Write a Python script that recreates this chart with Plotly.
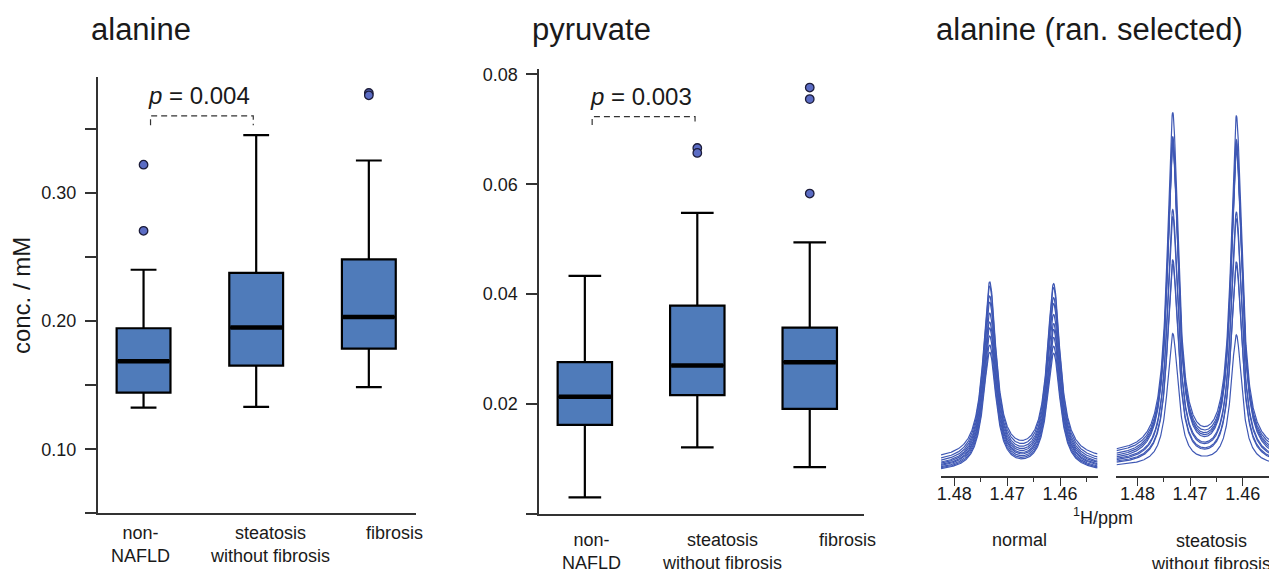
import numpy as np
import plotly.graph_objects as go

# ---------------- data ----------------
categories = ["non-NAFLD", "steatosis without fibrosis", "fibrosis"]
category_labels = ["non-<br>NAFLD", "steatosis<br>without fibrosis", "fibrosis"]

# alanine (conc. / mM)
ala_lower = [0.1326, 0.1331, 0.1485]
ala_q1 = [0.1442, 0.1653, 0.1786]
ala_median = [0.1686, 0.1949, 0.2031]
ala_q3 = [0.1944, 0.2376, 0.2481]
ala_upper = [0.2400, 0.3450, 0.3252]
ala_outliers = [[0.3219, 0.2704], [], [0.3778, 0.3760]]
ala_p = "0.004"
ala_yticks = [0.05, 0.10, 0.15, 0.20, 0.25, 0.30, 0.35]
ala_yticklabels = ["", "0.10", "", "0.20", "", "0.30", ""]

# pyruvate (conc. / mM)
pyr_lower = [0.0030, 0.0121, 0.0085]
pyr_q1 = [0.0162, 0.0216, 0.0191]
pyr_median = [0.0213, 0.0270, 0.0276]
pyr_q3 = [0.0276, 0.0379, 0.0339]
pyr_upper = [0.0433, 0.0548, 0.0494]
pyr_outliers = [[], [0.0666, 0.0657], [0.0776, 0.0755, 0.0583]]
pyr_p = "0.003"
pyr_yticks = [0.0, 0.02, 0.04, 0.06, 0.08]
pyr_yticklabels = ["", "0.02", "0.04", "0.06", "0.08"]

# alanine spectra (randomly selected), 1H / ppm, arbitrary intensity
ppm_ticks = [1.48, 1.47, 1.46]
ppm_ticklabels = ["1.48", "1.47", "1.46"]
ppm_minor = [1.475, 1.465, 1.455]
doublet_ppm = [1.4733, 1.4612]
normal_tops = [51.5, 50.4, 47.7, 46.1, 43.2, 40.8, 39.2, 37.1, 34.7, 32.8]
normal_bases = [4.2, 3.4, 2.9, 2.4, 2.2, 1.9, 1.7, 1.4, 1.2, 1.0]
steat_tops = [96.8, 90.4, 89.6, 88.8, 87.7, 70.9, 69.1, 57.6, 56.5, 37.9]
steat_bases = [5.8, 5.4, 4.7, 4.2, 3.7, 3.6, 3.3, 3.1, 2.8, 2.4]

# ---------------- style ----------------
W, H = 1269, 569
FONT = "Liberation Sans, Arial, Helvetica, sans-serif"
TXT = "#1a1a1a"
AX = "#333333"
BOX_FILL = "#4f7bba"
DOT_FILL = "#5b6cc4"
SPEC = "#3f58b4"


def px(x):
    return x / W


def py(y):
    return 1 - y / H


fig = go.Figure()


def add_box_panel(xa, ya, lower, q1, med, q3, upper, outliers, bw, ww):
    xs = list(range(len(categories)))
    fig.add_trace(go.Box(
        x=xs, q1=q1, median=med, q3=q3, lowerfence=lower, upperfence=upper,
        width=bw, whiskerwidth=ww, boxpoints=False,
        fillcolor=BOX_FILL, line=dict(color="black", width=2.2),
        xaxis=xa, yaxis=ya, showlegend=False, hoverinfo="skip"))
    mx, my = [], []
    for i, m in enumerate(med):
        mx += [i - bw / 2 + 0.01, i + bw / 2 - 0.01, None]
        my += [m, m, None]
    fig.add_trace(go.Scatter(x=mx, y=my, mode="lines",
                             line=dict(color="black", width=4.5),
                             xaxis=xa, yaxis=ya, showlegend=False, hoverinfo="skip"))
    ox, oy = [], []
    for i, vals in enumerate(outliers):
        for v in vals:
            ox.append(i)
            oy.append(v)
    fig.add_trace(go.Scatter(x=ox, y=oy, mode="markers",
                             marker=dict(size=8.5, color=DOT_FILL,
                                         line=dict(color="#1c1c3a", width=1.3)),
                             xaxis=xa, yaxis=ya, showlegend=False, hoverinfo="skip"))


add_box_panel("x", "y", ala_lower, ala_q1, ala_median, ala_q3, ala_upper, ala_outliers, 0.478, 0.48)
add_box_panel("x2", "y2", pyr_lower, pyr_q1, pyr_median, pyr_q3, pyr_upper, pyr_outliers, 0.484, 0.60)


def lorentz(x, c, hw):
    return 1.0 / (1.0 + ((x - c) / hw) ** 2)


def add_spectra(xa, ya, tops, bases, x_hi, x_lo, hw):
    grid = np.linspace(x_hi, x_lo, 500)
    for top, base in zip(tops, bases):
        amp = top - base
        yv = base + amp * (lorentz(grid, doublet_ppm[0], hw) + 0.99 * lorentz(grid, doublet_ppm[1], hw))
        fig.add_trace(go.Scatter(x=grid, y=yv, mode="lines",
                                 line=dict(color=SPEC, width=1.2),
                                 xaxis=xa, yaxis=ya, showlegend=False, hoverinfo="skip"))


add_spectra("x3", "y3", normal_tops, normal_bases, 1.4825, 1.4529, 0.00148)
add_spectra("x4", "y4", steat_tops, steat_bases, 1.4840, 1.4550, 0.00125)

# ---------------- axes ----------------
box_x = dict(showline=True, linecolor=AX, linewidth=1.8, ticks="", showticklabels=False,
             showgrid=False, zeroline=False, fixedrange=True)
box_y = dict(showline=True, linecolor=AX, linewidth=1.8, ticks="outside", ticklen=11,
             tickwidth=1.5, tickcolor=AX, showgrid=False, zeroline=False,
             tickfont=dict(family=FONT, size=18, color=TXT), tickmode="array",
             ticklabelstandoff=5)

spec_x = dict(showline=True, linecolor=AX, linewidth=1.5, ticks="outside", ticklen=8,
              tickwidth=1.3, tickcolor=AX, showgrid=False, zeroline=False,
              tickmode="array", tickvals=ppm_ticks, ticktext=ppm_ticklabels,
              tickfont=dict(family=FONT, size=18, color=TXT), ticklabelstandoff=-7,
              minor=dict(tickmode="array", tickvals=ppm_minor, ticks="outside", ticklen=4,
                         tickwidth=1.3, tickcolor=AX, showgrid=False))
spec_y = dict(visible=False, range=[0, 100], domain=[py(475), py(100)])

fig.update_layout(
    width=W, height=H, margin=dict(l=0, r=0, t=0, b=0),
    paper_bgcolor="white", plot_bgcolor="white",
    font=dict(family=FONT, color=TXT),
    xaxis=dict(box_x, domain=[px(94), px(413)], range=[-0.407, 2.416], anchor="y"),
    yaxis=dict(box_y, domain=[py(513), py(73)], range=[0.05, 0.39], anchor="x",
               tickvals=ala_yticks, ticktext=ala_yticklabels,
               title=dict(text="conc. / mM", font=dict(family=FONT, size=24, color=TXT), standoff=4)),
    xaxis2=dict(box_x, domain=[px(537), px(863)], range=[-0.405, 2.485], anchor="y2"),
    yaxis2=dict(box_y, domain=[py(513.3), py(65)], range=[0.0, 0.0809], anchor="x2",
                tickvals=pyr_yticks, ticktext=pyr_yticklabels),
    xaxis3=dict(spec_x, domain=[px(940), px(1097)], range=[1.4825, 1.4529], anchor="y3"),
    yaxis3=dict(spec_y, anchor="x3"),
    xaxis4=dict(spec_x, domain=[px(1116), 1.0], range=[1.4840, 1.4550], anchor="y4"),
    yaxis4=dict(spec_y, anchor="x4"),
)

ann = []
# panel titles
for text, x in [("alanine", 85), ("pyruvate", 528), ("alanine (ran. selected)", 933)]:
    ann.append(dict(text=text, x=px(x), y=py(25), xref="paper", yref="paper",
                    xanchor="left", yanchor="middle", showarrow=False,
                    font=dict(family=FONT, size=31, color=TXT)))

# category labels
for xa, shifts, ytop in [("x", [-3, 14, 26], 521), ("x2", [7, 25, 38], 528)]:
    for i, lab in enumerate(category_labels):
        ann.append(dict(text=lab, x=i, xref=xa, y=py(ytop), yref="paper",
                        xanchor="center", yanchor="top", xshift=shifts[i], showarrow=False,
                        font=dict(family=FONT, size=18, color=TXT)))

# p-value brackets
shapes = []
for xa, ya, x0, x1, ylo, yhi, ytxt, p in [
        ("x", "y", 0.062, 0.974, 0.3527, 0.3600, 0.3755, ala_p),
        ("x2", "y2", 0.065, 0.980, 0.0708, 0.0723, 0.07595, pyr_p)]:
    shapes.append(dict(type="path", xref=xa, yref=ya,
                       path=f"M {x0},{ylo} L {x0},{yhi} L {x1},{yhi} L {x1},{ylo}",
                       line=dict(color=AX, width=1.2, dash="6px,4px")))
    ann.append(dict(text=f"<i>p</i> = {p}", x=(x0 + x1) / 2, y=ytxt, xref=xa, yref=ya,
                    xanchor="center", yanchor="middle", showarrow=False, xshift=-3,
                    font=dict(family=FONT, size=24, color=TXT)))

# spectra labels
ann.append(dict(text="<sup>1</sup>H/ppm", x=px(1102), y=py(516), xref="paper", yref="paper",
                xanchor="center", yanchor="middle", showarrow=False,
                font=dict(family=FONT, size=18, color=TXT)))
ann.append(dict(text="normal", x=px(1019), y=py(540), xref="paper", yref="paper",
                xanchor="center", yanchor="middle", showarrow=False,
                font=dict(family=FONT, size=18, color=TXT)))
ann.append(dict(text="steatosis<br>without fibrosis", x=px(1211), y=py(528.5), xref="paper",
                yref="paper", xanchor="center", yanchor="top", showarrow=False,
                font=dict(family=FONT, size=18, color=TXT)))

fig.update_layout(annotations=ann, shapes=shapes)
fig.write_html("out.html", config={"displayModeBar": False},
               post_script="document.body.style.margin='0px';")
